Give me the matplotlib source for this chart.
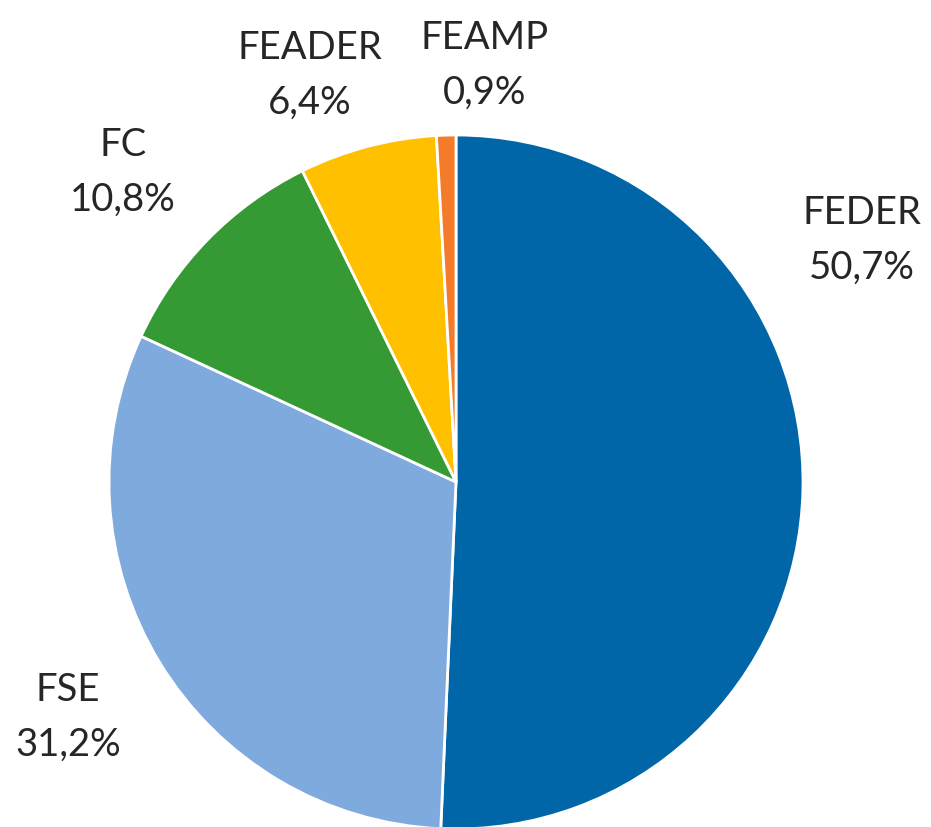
import matplotlib.pyplot as plt

# Data
labels = ['FEDER', 'FSE', 'FC', 'FEADER', 'FEAMP']
shares = [50.7, 31.2, 10.8, 6.4, 0.9]
colors = ['#0066A8', '#7FAADD', '#359A34', '#FFC000', '#F47B2A']

# label centres in pixels (x, y from top)
label_pos = [(862, 240), (68, 717), (123, 172), (310, 75), (485, 65)]

W, H = 931, 828
fig = plt.figure(figsize=(W / 100, H / 100), dpi=100)
ax = fig.add_axes([0, 0, 1, 1])
ax.set_xlim(0, W)
ax.set_ylim(0, H)
ax.set_aspect('equal')
ax.axis('off')

# pie drawn in pixel coordinates, starting at the top and going clockwise
ax.pie(shares, colors=colors, startangle=90, counterclock=False,
       center=(456, H - 483), radius=347,
       wedgeprops={'edgecolor': 'white', 'linewidth': 2})
ax.set_xlim(0, W)
ax.set_ylim(0, H)

for name, val, (x, y) in zip(labels, shares, label_pos):
    pct = f'{val:.1f}%'.replace('.', ',')
    ax.text(x, H - (y - 27), name, ha='center', va='center',
            fontsize=27.5, family='Lato', color='#262626')
    ax.text(x, H - (y + 28), pct, ha='center', va='center',
            fontsize=27.5, family='Lato', color='#262626')

fig.savefig('out.png', dpi=100)
